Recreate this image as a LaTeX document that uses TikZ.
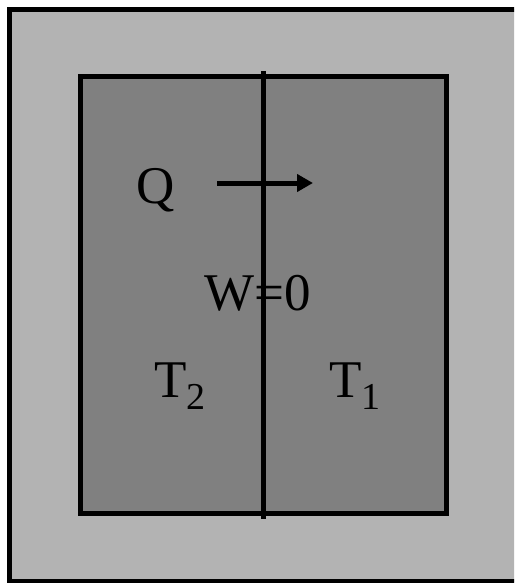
\documentclass[tikz,border=0pt]{standalone}
\usepackage{fontspec}
\setmainfont{Liberation Serif}
\usetikzlibrary{arrows.meta}
\definecolor{outergray}{RGB}{179,179,179}
\definecolor{innergray}{RGB}{128,128,128}
\tikzset{
  wall/.style={line width=5pt, draw=black},
  lbl/.style={anchor=base, inner sep=0pt, font=\fontsize{53}{60}\selectfont},
  heatflow/.style={line width=5pt, -{Triangle[length=16pt,width=17pt]}}
}
\newcommand{\subs}[1]{\raisebox{-12pt}{\fontsize{38}{40}\selectfont #1}}
\begin{document}
\begin{tikzpicture}[x=1pt,y=-1pt]
\useasboundingbox (0,0) rectangle (514,583);
\clip (0,0) rectangle (514,583);
\fill[white] (0,0) rectangle (514,583);
% outer surroundings
\draw[wall, fill=outergray] (9.5,9.5) rectangle (517,581.5);
% inner system
\draw[wall, fill=innergray] (80.5,76.5) rectangle (446,513.5);
% partition
\coordinate (ptop) at (263.5,71);
\coordinate (pbot) at (263.5,519);
\draw[line width=5pt] (ptop) -- (pbot);
% heat arrow
\coordinate (qstart) at (217,183);
\coordinate (qend) at (313,183);
\draw[heatflow] (qstart) -- (qend);
% labels
\node[lbl] (q) at (155.5,203) {Q};
\node[lbl] (w) at (258,310) {W=0};
\node[lbl, anchor=base west] (t2) at (154,397) {T\subs{2}};
\node[lbl, anchor=base west] (t1) at (329,397) {T\subs{1}};
\end{tikzpicture}
\end{document}
